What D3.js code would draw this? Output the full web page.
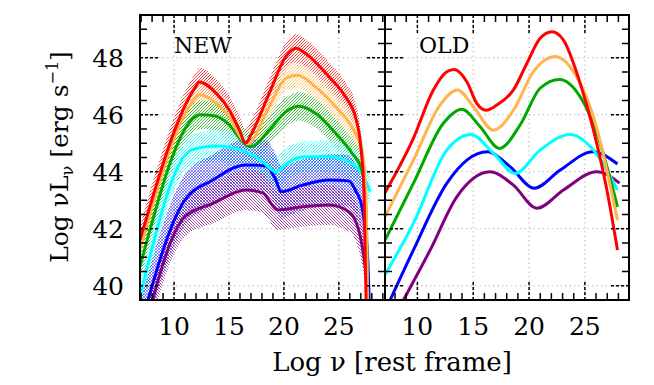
<!DOCTYPE html>
<html>
<head>
<meta charset="utf-8">
<script src="https://cdn.jsdelivr.net/npm/d3@7"></script>
<style>
body { margin: 0; background: #fff; }
text { font-family: "DejaVu Serif", serif; fill: #000; }
</style>
</head>
<body>
<svg id="chart" width="654" height="385"></svg>
<script>
// series order: red, orange, green, cyan, blue, purple
const seriesColors = ["#ff0000", "#ffb54c", "#00a800", "#00ffff", "#0000ff", "#800080"];
const hatchDir = ["/", "/", "/", "/", "x", "\\"];
const hatchOpacity = [0.75, 0.75, 0.75, 0.75, 0.45, 0.7];
const xTicks = [10, 15, 20, 25];
const yTicks = [40, 42, 44, 46, 48];

// NEW panel (log nu, log nuLnu)
const newRed = [[6.9,41.6],[12.0,47.0],[12.3,47.15],[13.84,46.75],[15.04,46.16],[15.95,45.46],[16.5,45.0],[17.0,45.3],[18.66,46.75],[20.17,48.04],[21.1,48.33],[21.98,48.15],[24.1,47.33],[25.6,46.63],[26.5,45.93],[26.96,45.0],[27.3,43.2],[27.5,39.0]];
const newOrange = [[6.9,41.25],[12.0,46.6],[12.3,46.7],[13.84,46.4],[15.04,45.93],[16.25,45.11],[16.7,44.98],[18.66,46.28],[20.17,47.28],[21.22,47.39],[22.88,46.98],[24.7,46.28],[26.5,45.35],[27.1,44.76],[27.47,43.12],[27.62,39.0]];
const newGreen = [[6.9,40.67],[12.0,45.95],[12.3,46.0],[13.84,45.95],[15.04,45.64],[16.25,45.05],[17.0,44.88],[18.66,45.46],[20.17,46.1],[21.37,46.3],[22.88,46.05],[24.7,45.35],[26.2,44.65],[27.1,44.06],[27.47,42.66],[27.65,39.0]];
const newCyan = [[6.9,39.6],[11.57,44.76],[13.84,44.9],[16.55,44.7],[18.06,44.35],[19.27,44.0],[20.47,44.35],[21.98,44.53],[24.1,44.53],[25.9,44.35],[27.1,43.94],[27.86,43.3]];
const newBlue = [[6.9,38.5],[10.97,43.0],[13.53,43.71],[16.55,44.24],[18.36,44.2],[19.27,43.71],[19.72,43.3],[21.67,43.53],[24.1,43.71],[25.9,43.68],[26.5,43.36],[27.1,42.77],[27.4,41.95],[27.65,40.79],[27.8,39.0]];
const newPurple = [[6.9,37.8],[10.97,42.42],[13.53,42.89],[16.55,43.36],[18.06,43.26],[19.42,42.66],[21.67,42.77],[24.1,42.83],[25.9,42.6],[26.5,42.3],[26.96,41.72],[27.35,40.79],[27.6,39.85],[27.7,39.0]];
const newBandHalf = [0.5, 0.45, 0.5, 0.55, 0.9, 0.7];

// OLD panel
const oldRed = [[7.1,43.26],[9.64,45.17],[11.43,46.87],[12.63,47.51],[13.29,47.59],[14.43,47.16],[15.32,46.4],[16.16,46.16],[17.11,46.34],[18.6,46.87],[19.8,47.8],[20.99,48.68],[22.04,48.91],[23.08,48.62],[24.58,47.1],[25.77,45.46],[26.97,43.36],[27.92,41.25]];
const oldOrange = [[7.1,42.42],[9.64,44.41],[12.03,46.34],[13.59,46.87],[15.02,46.28],[16.81,45.46],[18.6,46.16],[20.39,47.51],[22.34,48.04],[23.98,47.51],[25.77,45.93],[27.92,42.3]];
const oldGreen = [[7.1,41.6],[9.64,43.59],[12.33,45.7],[13.98,46.19],[15.62,45.58],[17.35,44.82],[19.2,45.64],[20.99,46.93],[22.72,47.24],[24.58,46.63],[26.07,45.35],[27.92,42.77]];
const oldCyan = [[7.1,40.38],[9.64,42.19],[12.63,44.76],[14.78,45.31],[16.81,44.65],[18.75,43.94],[20.99,44.76],[23.68,45.31],[25.77,44.76],[27.92,43.36]];
const oldBlue = [[7.1,39.1],[9.64,41.25],[12.63,43.59],[14.43,44.41],[16.27,44.7],[18.3,44.18],[20.46,43.42],[22.79,44.06],[25.72,44.7],[27.92,44.27]];
const oldPurple = [[7.1,38.3],[8.75,39.5],[11.14,41.25],[13.53,43.12],[16.5,44.0],[18.6,43.53],[20.7,42.72],[23.08,43.36],[26.07,44.0],[28.1,43.6]];

const newCurves = [newRed, newOrange, newGreen, newCyan, newBlue, newPurple];
const oldCurves = [oldRed, oldOrange, oldGreen, oldCyan, oldBlue, oldPurple];

const svg = d3.select("#chart");
const plotTop = 15, plotBottom = 300;
const y = d3.scaleLinear().domain([39.5, 49.5]).range([plotBottom, plotTop]);
const xNew = d3.scaleLinear().domain([6.9, 29.2]).range([140, 385]);
const xOld = d3.scaleLinear().domain([7.1, 28.95]).range([385, 629]);

// hatch patterns for the NEW bands
const defs = svg.append("defs");
seriesColors.forEach(function(c, i) {
  let s = 3;
  let p = defs.append("pattern")
    .attr("id", "hatch" + i)
    .attr("patternUnits", "userSpaceOnUse")
    .attr("width", s).attr("height", s);
  let up = "M-1,1 l2,-2 M0," + s + " l" + s + ",-" + s + " M" + (s - 1) + "," + (s + 1) + " l2,-2";
  let down = "M-1," + (s - 1) + " l2,2 M0,0 l" + s + "," + s + " M" + (s - 1) + ",-1 l2,2";
  let d = hatchDir[i] == "/" ? up : (hatchDir[i] == "\\" ? down : up + " " + down);
  p.append("path").attr("d", d)
    .attr("stroke", c).attr("stroke-width", 1).attr("stroke-opacity", hatchOpacity[i]);
});

function drawPanel(x, id, label, curves, bands) {
  let x0 = x.range()[0], x1 = x.range()[1];
  let g = svg.append("g");

  defs.append("clipPath").attr("id", "clip" + id)
    .append("rect").attr("x", x0).attr("y", plotTop)
    .attr("width", x1 - x0).attr("height", plotBottom - plotTop);

  // dotted grid
  g.selectAll(".gx").data(xTicks).enter().append("line")
    .attr("x1", d => x(d)).attr("x2", d => x(d))
    .attr("y1", plotTop).attr("y2", plotBottom)
    .attr("stroke", "#bbb").attr("stroke-width", 1).attr("stroke-dasharray", "1.5,3");
  g.selectAll(".gy").data(yTicks).enter().append("line")
    .attr("x1", x0).attr("x2", x1)
    .attr("y1", d => y(d)).attr("y2", d => y(d))
    .attr("stroke", "#bbb").attr("stroke-width", 1).attr("stroke-dasharray", "1.5,3");

  let plot = g.append("g").attr("clip-path", "url(#clip" + id + ")");

  if (bands) {
    curves.forEach(function(c, i) {
      let area = d3.area()
        .x(d => x(d[0]))
        .y0(d => y(d[1] - bands[i]))
        .y1(d => y(d[1] + bands[i]))
        .curve(d3.curveMonotoneX);
      plot.append("path").datum(c).attr("d", area)
        .attr("fill", "url(#hatch" + i + ")");
    });
  }

  let line = d3.line().x(d => x(d[0])).y(d => y(d[1])).curve(d3.curveMonotoneX);
  for (let i = curves.length - 1; i >= 0; i--) {
    plot.append("path").datum(curves[i]).attr("d", line)
      .attr("fill", "none").attr("stroke", seriesColors[i])
      .attr("stroke-width", 3).attr("stroke-linejoin", "round");
  }

  // ticks on all four sides
  let minorX = d3.range(7, 30).filter(v => v > x.domain()[0] && v < x.domain()[1] && xTicks.indexOf(v) < 0);
  let minorY = d3.range(40, 49.6, 0.5).filter(v => yTicks.indexOf(v) < 0);
  let tk = g.append("g").attr("stroke", "#000");
  minorX.forEach(function(v) {
    tk.append("line").attr("x1", x(v)).attr("x2", x(v)).attr("y1", plotBottom).attr("y2", plotBottom - 7).attr("stroke-width", 1.5);
    tk.append("line").attr("x1", x(v)).attr("x2", x(v)).attr("y1", plotTop).attr("y2", plotTop + 7).attr("stroke-width", 1.5);
  });
  xTicks.forEach(function(v) {
    tk.append("line").attr("x1", x(v)).attr("x2", x(v)).attr("y1", plotBottom).attr("y2", plotBottom - 18).attr("stroke-width", 1.5).attr("stroke-dasharray", "3,2");
    tk.append("line").attr("x1", x(v)).attr("x2", x(v)).attr("y1", plotTop).attr("y2", plotTop + 18).attr("stroke-width", 1.5).attr("stroke-dasharray", "3,2");
  });
  minorY.forEach(function(v) {
    tk.append("line").attr("x1", x0).attr("x2", x0 + 7).attr("y1", y(v)).attr("y2", y(v)).attr("stroke-width", 1.5);
    tk.append("line").attr("x1", x1).attr("x2", x1 - 7).attr("y1", y(v)).attr("y2", y(v)).attr("stroke-width", 1.5);
  });
  yTicks.forEach(function(v) {
    tk.append("line").attr("x1", x0).attr("x2", x0 + 18).attr("y1", y(v)).attr("y2", y(v)).attr("stroke-width", 1.5).attr("stroke-dasharray", "3,2");
    tk.append("line").attr("x1", x1).attr("x2", x1 - 18).attr("y1", y(v)).attr("y2", y(v)).attr("stroke-width", 1.5).attr("stroke-dasharray", "3,2");
  });

  g.append("rect").attr("x", x0).attr("y", plotTop)
    .attr("width", x1 - x0).attr("height", plotBottom - plotTop)
    .attr("fill", "none").attr("stroke", "#000").attr("stroke-width", 2);

  g.append("text").attr("x", x0 + 34).attr("y", 53)
    .attr("font-size", 22).text(label);

  g.selectAll(".xl").data(xTicks).enter().append("text")
    .attr("x", d => x(d)).attr("y", 335)
    .attr("text-anchor", "middle").attr("font-size", 25)
    .text(d => d);
}

drawPanel(xNew, "new", "NEW", newCurves, newBandHalf);
drawPanel(xOld, "old", "OLD", oldCurves, null);

svg.selectAll(".yl").data(yTicks).enter().append("text")
  .attr("x", 124).attr("y", d => y(d)).attr("dy", "0.36em")
  .attr("text-anchor", "end").attr("font-size", 25)
  .text(d => d);

svg.append("text").attr("x", 392).attr("y", 371)
  .attr("text-anchor", "middle").attr("font-size", 26)
  .text("Log \u03bd [rest frame]");

let yt = svg.append("text")
  .attr("transform", "translate(68,157) rotate(-90)")
  .attr("text-anchor", "middle").attr("font-size", 25);
yt.append("tspan").text("Log \u03bdL");
yt.append("tspan").attr("dy", 5).attr("font-size", 16).text("\u03bd");
yt.append("tspan").attr("dy", -5).text(" [erg s");
yt.append("tspan").attr("dy", -10).attr("font-size", 16).text("\u22121");
yt.append("tspan").attr("dy", 10).text("]");
</script>
</body>
</html>
